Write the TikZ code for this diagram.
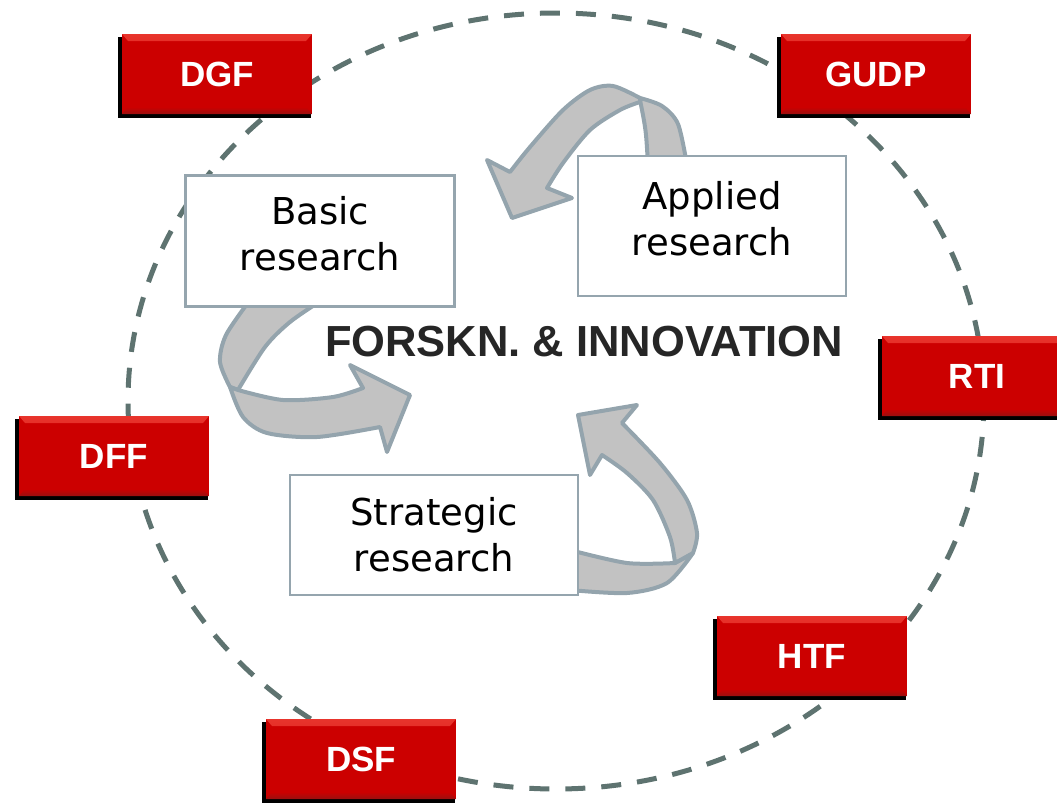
\documentclass[tikz,border=0pt]{standalone}
\usepackage{fontspec}
\setmainfont{DejaVu Sans}
\newfontfamily\arialfont{Liberation Sans}
\usetikzlibrary{shadows}

\definecolor{fundred}{HTML}{CC0000}
\definecolor{bevellight}{HTML}{E8342C}
\definecolor{beveldark}{HTML}{9A1010}
\definecolor{ringgray}{HTML}{5E7370}
\definecolor{boxedge}{HTML}{95A5AE}
\definecolor{ribbonfill}{HTML}{C2C2C2}
\definecolor{ribbonedge}{HTML}{94A4AD}
\definecolor{titlegray}{HTML}{262626}

\tikzset{
  fund/.style={rectangle, minimum width=190pt, minimum height=80pt, fill=fundred,
    text=white, font=\arialfont\bfseries\fontsize{35}{38}\selectfont,
    general shadow={fill=black, shadow scale=1.015, shadow xshift=-2.5pt, shadow yshift=-3.5pt},
    path picture={
      \shade[top color=bevellight, bottom color=fundred]
        (path picture bounding box.north west) -- (path picture bounding box.north east)
        -- ([xshift=-6pt,yshift=-7pt]path picture bounding box.north east)
        -- ([xshift=6pt,yshift=-7pt]path picture bounding box.north west) -- cycle;
      \shade[top color=fundred, bottom color=beveldark]
        (path picture bounding box.south west) -- (path picture bounding box.south east)
        -- ([xshift=-6pt,yshift=7pt]path picture bounding box.south east)
        -- ([xshift=6pt,yshift=7pt]path picture bounding box.south west) -- cycle;
    }},
  stage/.style={rectangle, draw=boxedge, line width=2.5pt, fill=white, align=center,
    font=\fontsize{37}{46}\selectfont},
  ribbon/.style={fill=ribbonfill, draw=ribbonedge, line width=4pt, line join=round},
}

\begin{document}
\begin{tikzpicture}[x=1pt,y=-1pt]
\useasboundingbox (0,0) rectangle (1057,803);

% dashed ring
\draw[ringgray, line width=5pt, dash pattern=on 20pt off 16pt] (556,401) ellipse (428 and 388);

% ribbons: applied -> basic
\filldraw[ribbon] plot[smooth] coordinates {(640,98) (662,106) (678,124) (687,165)}
  -- (648,165) .. controls (646,130) .. (640,100) -- cycle;
\filldraw[ribbon] plot[smooth] coordinates {(640,98) (613,86) (590,90) (563,110) (530,147) (510,172)}
  -- (487,160) -- (512,218) -- (572,198)
  -- plot[smooth] coordinates {(547,188) (563,163) (590,130) (620,110) (640,102)} -- cycle;

% basic -> centre
\filldraw[ribbon] plot[smooth] coordinates {(250,300) (226,335) (220,362) (230,387)}
  -- plot[smooth] coordinates {(238,390) (265,347) (290,322) (322,300)} -- cycle;
\filldraw[ribbon] plot[smooth] coordinates {(230,387) (243,417) (267,433) (317,437) (380,427)}
  -- (387,452) -- (410,395) -- (350,365)
  -- plot[smooth] coordinates {(363,388) (333,397) (283,400) (238,390)} -- cycle;

% strategic -> centre
\filldraw[ribbon] plot[smooth] coordinates {(570,550) (627,563) (675,563)}
  -- plot[smooth] coordinates {(693,553) (667,583) (627,593) (570,590)} -- cycle;
\filldraw[ribbon] plot[smooth] coordinates {(675,563) (670,537) (653,500) (627,473) (602,455)}
  -- (590,475) -- (578,415) -- (637,405)
  -- plot[smooth] coordinates {(622,423) (660,463) (687,500) (697,533) (693,553)} -- cycle;

% research stages
\node[stage, minimum width=269pt, minimum height=131pt] (basic) at (320,241) {Basic\\research\\[-30pt]};
\node[stage, minimum width=268pt, minimum height=140pt] (applied) at (712,226) {Applied\\research\\[-30pt]};
\node[stage, minimum width=288pt, minimum height=120pt] (strategic) at (434,535) {Strategic\\research};

\node[text=titlegray, font=\arialfont\bfseries\fontsize{43.5}{47}\selectfont] (centre) at (584,342) {FORSKN. \& INNOVATION};

% funding bodies
\node[fund] (dgf)  at (217,74)  {DGF};
\node[fund] (gudp) at (876,74)  {GUDP};
\node[fund] (rti)  at (977,376) {RTI};
\node[fund] (dff)  at (114,456) {DFF};
\node[fund] (htf)  at (812,656) {HTF};
\node[fund] (dsf)  at (361,759) {DSF};
\end{tikzpicture}
\end{document}
